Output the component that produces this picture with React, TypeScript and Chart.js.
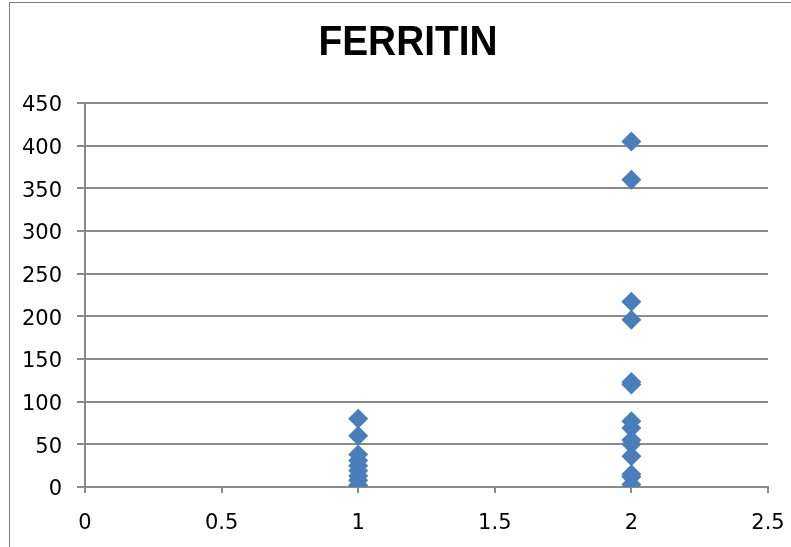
import React, { useEffect, useRef } from "react";
import { Chart, registerables } from "chart.js";

Chart.register(...registerables);

const chartTitle = "FERRITIN";
const xTickValues = [0, 0.5, 1, 1.5, 2, 2.5];
const yTickValues = [0, 50, 100, 150, 200, 250, 300, 350, 400, 450];

const group1X = [1, 1, 1, 1, 1, 1, 1, 1, 1];
const group1Y = [80, 60, 38, 31, 25, 19, 13, 8, 2];

const group2X = [2, 2, 2, 2, 2, 2, 2, 2, 2, 2, 2, 2, 2, 2];
const group2Y = [405, 360, 217, 196, 123, 120, 77, 69, 55, 50, 36, 15, 12, 3];

const markerColor = "#4A7EBB";
const gridColor = "#8a8a8a";

const titlePlugin = {
  id: "excelTitle",
  afterDraw(chart: any) {
    const ctx = chart.ctx as CanvasRenderingContext2D;
    ctx.save();
    ctx.font = "bold 41px 'Liberation Sans', Arial, sans-serif";
    ctx.fillStyle = "#000";
    ctx.textBaseline = "alphabetic";
    ctx.textAlign = "center";
    const w = ctx.measureText(chartTitle).width;
    const targetW = 179;
    const sx = targetW / w;
    ctx.translate(408, 55);
    ctx.scale(sx, 1.03);
    ctx.fillText(chartTitle, 0, 0);
    ctx.restore();
  },
};

export default function App() {
  const canvasRef = useRef<HTMLCanvasElement | null>(null);

  useEffect(() => {
    if (!canvasRef.current) return;
    const points = [
      ...group1X.map((x, i) => ({ x, y: group1Y[i] })),
      ...group2X.map((x, i) => ({ x, y: group2Y[i] })),
    ];
    const tickFont = { family: "'DejaVu Sans', sans-serif", size: 21 };
    const chart = new Chart(canvasRef.current, {
      type: "scatter",
      data: {
        datasets: [
          {
            label: chartTitle,
            data: points,
            pointStyle: "rectRot",
            pointRadius: 10,
            pointHoverRadius: 10,
            backgroundColor: markerColor,
            borderColor: markerColor,
            borderWidth: 0,
          },
        ],
      },
      plugins: [titlePlugin],
      options: {
        responsive: false,
        animation: false,
        layout: { padding: { left: 0, right: 23, top: 103, bottom: 0 } },
        plugins: {
          legend: { display: false },
          tooltip: { enabled: false },
          title: { display: false },
        },
        scales: {
          x: {
            type: "linear",
            min: 0,
            max: 2.5,
            afterBuildTicks: (axis: any) => {
              axis.ticks = xTickValues.map((v) => ({ value: v }));
            },
            afterFit: (axis: any) => {
              axis.height = 60;
              axis.paddingLeft = 0;
              axis.paddingRight = 0;
            },
            ticks: {
              color: "#000",
              font: tickFont,
              padding: 18,
              maxRotation: 0,
              callback: (v: any) => String(v),
            },
            grid: {
              drawOnChartArea: false,
              drawTicks: true,
              tickLength: 6,
              color: gridColor,
              lineWidth: 2,
            },
            border: { display: true, color: gridColor, width: 2 },
          },
          y: {
            type: "linear",
            min: 0,
            max: 450,
            afterBuildTicks: (axis: any) => {
              axis.ticks = yTickValues.map((v) => ({ value: v }));
            },
            afterFit: (axis: any) => {
              axis.width = 85;
              axis.paddingTop = 0;
              axis.paddingBottom = 0;
            },
            ticks: {
              color: "#000",
              font: tickFont,
              padding: 15,
              labelOffset: 3,
              callback: (v: any) => String(v),
            },
            grid: {
              color: gridColor,
              lineWidth: 2,
              tickLength: 8,
            },
            border: { display: true, color: gridColor, width: 2 },
          },
        },
      },
    });
    return () => chart.destroy();
  }, []);

  return (
    <div
      style={{
        position: "fixed",
        left: 0,
        top: 0,
        width: 791,
        height: 547,
        background: "#fff",
      }}
    >
      <canvas
        ref={canvasRef}
        width={791}
        height={547}
        style={{ display: "block", width: 791, height: 547 }}
      />
      <div
        style={{
          position: "absolute",
          left: 9,
          top: 2,
          right: 0,
          bottom: 0,
          borderLeft: "1px solid #7f7f7f",
          borderTop: "1px solid #7f7f7f",
          pointerEvents: "none",
        }}
      />
    </div>
  );
}
